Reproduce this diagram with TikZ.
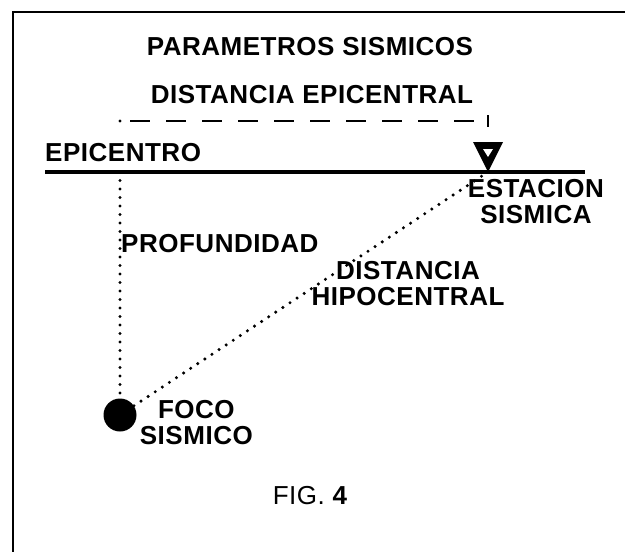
\documentclass[tikz,border=0pt]{standalone}
\usepackage{fontspec}
\setmainfont{Liberation Sans}[LetterSpace=2]
\usepackage{tikz}
\usetikzlibrary{positioning,shapes}

\begin{document}
\begin{tikzpicture}[x=1pt, y=-1pt,
        every node/.style = {inner sep=0pt, align=center,
        font=\fontsize{26}{26}\selectfont\bfseries},
        dotline/.style = {line width=3.4pt, line cap=round, dash pattern=on 0pt off 8.5pt},
        dashline/.style = {line width=2.6pt, dash pattern=on 20pt off 16pt}]
        \useasboundingbox (0,0) rectangle (625,552);
        \draw[line width=2.4pt] (13,552) -- (13,12) -- (625,12);
	        \node[anchor=base] (title) at (310,55) {PARAMETROS SISMICOS};
	        \node[anchor=base] (epidist) at (312,103) {DISTANCIA EPICENTRAL};
	        \coordinate (dl) at (120,121);
	        \coordinate (dr) at (488,121);
	        \draw[dashline] (dl) ++(10,0) -- (dr);
	        \draw[line width=2.4pt] (dr) ++(0,-6) -- ++(0,12);
	        \fill (dl) circle (1.6pt);
	        \node[anchor=base west] (epilbl) at (45,161) {EPICENTRO};
	        \coordinate (gl) at (45,172);
	        \coordinate (gr) at (585,172);
	        \draw[line width=3.2pt] (gl) -- (gr);
	        \coordinate (epi) at (120,172);
	        \coordinate (est) at (488,172);
	        \fill (est) ++(-15,-30) -- ++(30,0) -- (est) -- cycle;
	        \fill[white] (est) ++(-5,-23) -- ++(10,0) -- ++(-5,8) -- cycle;
	        \node[anchor=north] (estlbl) at (536,179) {ESTACION\\SISMICA};
	        \node[circle, fill, minimum size=33pt] (foco) at (120,415) {};
	        \draw[dotline] (epi) -- (foco.center);
	        \draw[dotline] (foco) -- (est);
	        \node[anchor=base west] (prof) at (121,252) {PROFUNDIDAD};
	        \node (hipo) at (408,284) {DISTANCIA\\HIPOCENTRAL};
	        \node[right=3pt of foco, yshift=-8pt] (focolbl) {FOCO\\SISMICO};
	        \node[anchor=base] (fig) at (310,504) {\mdseries FIG. \bfseries 4};
\end{tikzpicture}
\end{document}
